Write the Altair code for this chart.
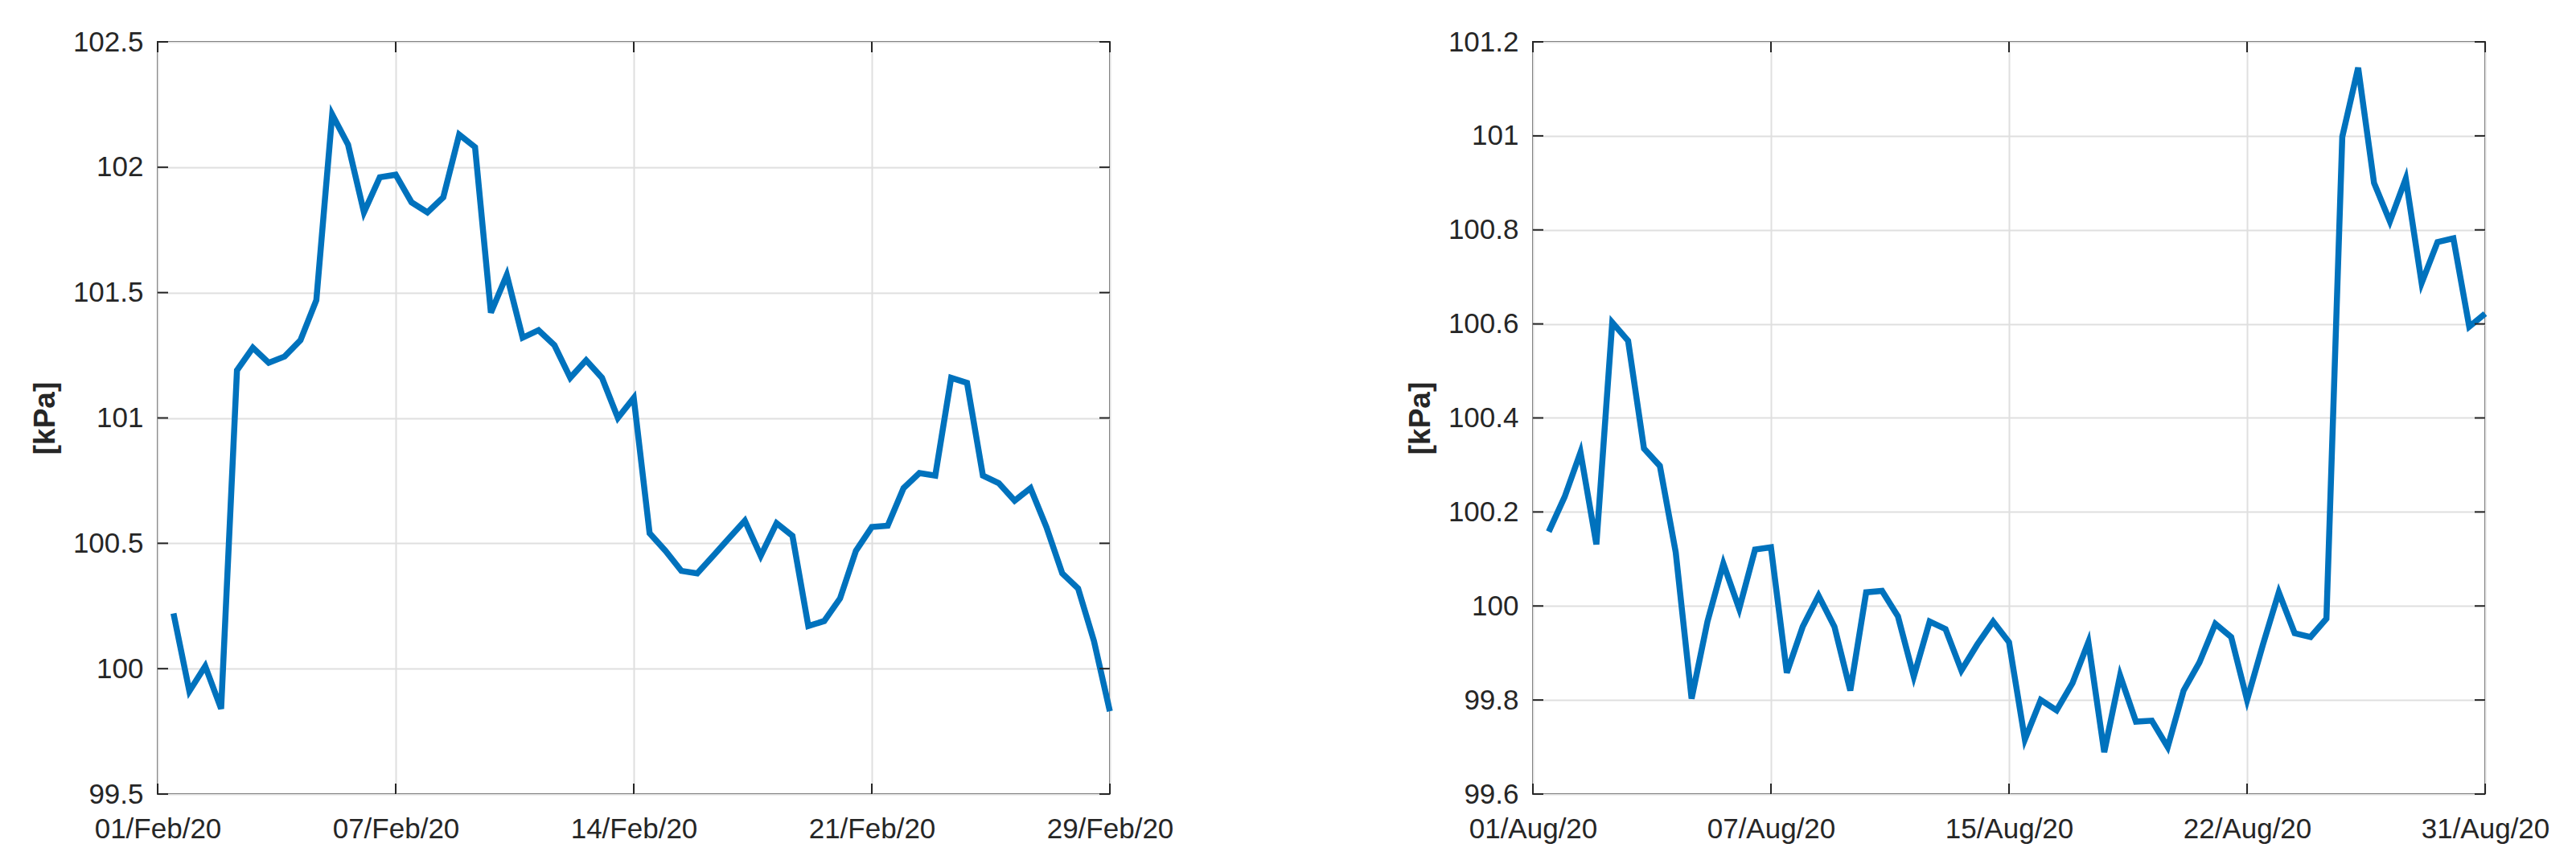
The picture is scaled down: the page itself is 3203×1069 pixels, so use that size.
import altair as alt
import pandas as pd

# ---- data ----
sample_index = list(range(1, 61))

feb_kpa = [100.22, 99.91, 100.01, 99.84, 101.19, 101.28, 101.22, 101.245, 101.31, 101.47,
           102.21, 102.09, 101.82, 101.96, 101.97, 101.86, 101.82, 101.88, 102.13, 102.08,
           101.42, 101.57, 101.32, 101.35, 101.29, 101.16, 101.23, 101.16, 101.00, 101.08,
           100.54, 100.47, 100.39, 100.38, 100.45, 100.52, 100.59, 100.45, 100.58, 100.53,
           100.17, 100.19, 100.28, 100.47, 100.565, 100.57, 100.72, 100.78, 100.77, 101.16,
           101.14, 100.77, 100.74, 100.67, 100.72, 100.565, 100.38, 100.32, 100.11, 99.83]

aug_kpa = [100.158, 100.232, 100.327, 100.131, 100.603, 100.564, 100.335, 100.298, 100.114, 99.803,
           99.967, 100.090, 99.994, 100.120, 100.125, 99.858, 99.956, 100.022, 99.956, 99.820,
           100.029, 100.032, 99.978, 99.850, 99.967, 99.951, 99.863, 99.918, 99.967, 99.923,
           99.716, 99.800, 99.778, 99.836, 99.923, 99.689, 99.852, 99.754, 99.756, 99.700,
           99.820, 99.880, 99.962, 99.934, 99.800, 99.918, 100.029, 99.942, 99.934, 99.973,
           100.998, 101.145, 100.900, 100.818, 100.909, 100.687, 100.774, 100.782, 100.594, 100.622]

x_tick_positions = [0, 15, 30, 45, 60]
feb_tick_labels = ["01/Feb/20", "07/Feb/20", "14/Feb/20", "21/Feb/20", "29/Feb/20"]
aug_tick_labels = ["01/Aug/20", "07/Aug/20", "15/Aug/20", "22/Aug/20", "31/Aug/20"]
feb_y_ticks = [99.5, 100, 100.5, 101, 101.5, 102, 102.5]
aug_y_ticks = [99.6, 99.8, 100, 100.2, 100.4, 100.6, 100.8, 101, 101.2]

# ---- styling ----
W, H = 1184, 935
FONT = "Liberation Sans"
TXT = "#262626"
GRID = "#DFDFDF"
LINE = "#0072BD"
TICK = 13


def panel(values, xlabels, yticks):
    df = pd.DataFrame({"i": sample_index, "kPa": values})
    expr = ""
    for v, lab in zip(x_tick_positions, xlabels):
        expr += f"datum.value == {v} ? '{lab}' : "
    expr += "''"
    xscale = alt.Scale(domain=[x_tick_positions[0], x_tick_positions[-1]], nice=False, zero=False)
    yscale = alt.Scale(domain=[yticks[0], yticks[-1]], nice=False, zero=False)
    xaxis = alt.Axis(values=x_tick_positions, labelExpr=expr, title=None, grid=True,
                     gridColor=GRID, gridWidth=2, domain=False, ticks=False, tickSize=0,
                     labelPadding=26, labelFontSize=35, labelColor=TXT, labelFont=FONT,
                     labelFlush=False, labelOverlap=False, labelBound=False)
    yaxis = alt.Axis(values=yticks, format="~g", title="[kPa]", titleX=-140, titleY=H / 2,
                     titleAngle=270, titleBaseline="middle", titleAlign="center",
                     titleFontSize=37, titleFontWeight="bold", titleFont=FONT, titleColor=TXT,
                     grid=True, gridColor=GRID, gridWidth=2, domain=False, ticks=False, tickSize=0,
                     labelPadding=18, labelFontSize=35, labelColor=TXT, labelFont=FONT,
                     labelFlush=False, labelOverlap=False, labelBound=False)
    line = alt.Chart(df).mark_line(color=LINE, strokeWidth=7.5).encode(
        x=alt.X("i:Q", scale=xscale, axis=xaxis),
        y=alt.Y("kPa:Q", scale=yscale, axis=yaxis),
    )
    ydf = pd.DataFrame({"kPa": yticks})
    xdf = pd.DataFrame({"i": x_tick_positions})
    rule = dict(color=TXT, strokeWidth=2)
    yl = alt.Chart(ydf).mark_rule(**rule).encode(
        y=alt.Y("kPa:Q", scale=yscale, axis=yaxis), x=alt.value(0), x2=alt.value(TICK))
    yr = alt.Chart(ydf).mark_rule(**rule).encode(
        y=alt.Y("kPa:Q", scale=yscale, axis=yaxis), x=alt.value(W - TICK), x2=alt.value(W))
    xb = alt.Chart(xdf).mark_rule(**rule).encode(
        x=alt.X("i:Q", scale=xscale, axis=xaxis), y=alt.value(H - TICK), y2=alt.value(H))
    xt = alt.Chart(xdf).mark_rule(**rule).encode(
        x=alt.X("i:Q", scale=xscale, axis=xaxis), y=alt.value(0), y2=alt.value(TICK))
    return alt.layer(line, yl, yr, xb, xt).properties(width=W, height=H)


chart = alt.hconcat(
    panel(feb_kpa, feb_tick_labels, feb_y_ticks),
    panel(aug_kpa, aug_tick_labels, aug_y_ticks),
    spacing=286,
).properties(
    padding={"left": 28, "top": 26, "right": 5, "bottom": 5},
    background="white",
).configure_view(
    stroke=TXT, strokeWidth=2
)

chart.save("out.html", embed_options={"renderer": "svg", "actions": False})
